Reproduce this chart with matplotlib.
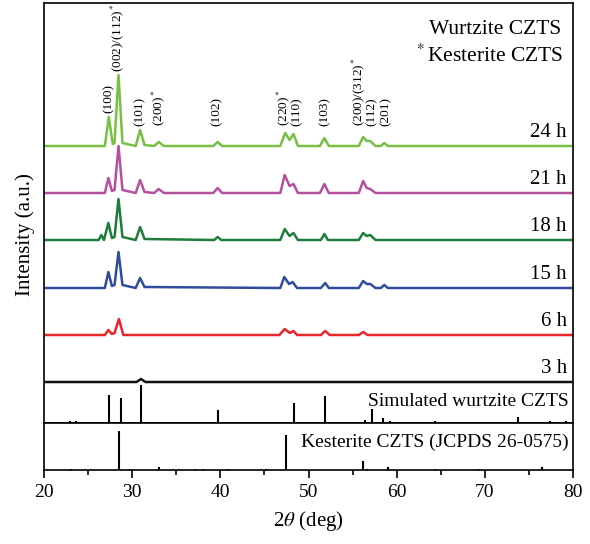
import numpy as np
import matplotlib.pyplot as plt

# XRD patterns of CZTS at different reaction times
plt.rcParams['font.family'] = ['Liberation Serif', 'DejaVu Serif']
plt.rcParams['mathtext.fontset'] = 'stix'

labels = ['24 h', '21 h', '18 h', '15 h', '6 h', '3 h']
colors = ['#78c043', '#b5509f', '#1e7d3a', '#2f4d9c', '#e8262a', '#111111']

x_24h = [20, 26.9, 27.35, 27.8, 28.0, 28.45, 28.9, 30.4, 30.9, 31.4, 32.5, 33.0, 33.6,
         39.2, 39.7, 40.2, 46.8, 47.35, 47.85, 48.3, 48.8, 51.3, 51.8, 52.3,
         55.7, 56.2, 56.6, 57.0, 57.6, 58.2, 58.6, 59.0, 80]
y_24h = [0, 0, 29, 2, 3, 71, 3, 0, 16, 1, 0, 4, 0,
         0, 4, 0, 0, 13, 6, 12, 0, 0, 8, 0,
         0, 9, 5, 5, 0, 0, 3, 0, 0]
x_21h = [20, 26.9, 27.3, 27.7, 28.0, 28.45, 28.9, 30.4, 30.9, 31.4, 32.5, 33.0, 33.6,
         39.2, 39.7, 40.2, 46.8, 47.3, 47.85, 48.3, 48.8, 51.3, 51.8, 52.3,
         55.7, 56.2, 56.6, 57.0, 57.6, 80]
y_21h = [0, 0, 15, 2, 3, 47, 3, 0, 13, 1, 0, 4, 0,
         0, 5, 0, 0, 18, 7, 9, 0, 0, 9, 0,
         0, 12, 5, 4, 0, 0]
x_18h = [20, 26.2, 26.5, 26.8, 27.3, 27.7, 28.0, 28.45, 28.9, 30.4, 30.9, 31.4,
         39.3, 39.7, 40.1, 46.8, 47.3, 47.85, 48.3, 48.8, 51.4, 51.8, 52.2,
         55.7, 56.2, 56.6, 57.0, 57.6, 80]
y_18h = [0, 0, 5, 0, 17, 2, 3, 41, 3, 0, 13, 1,
         0, 3, 0, 0, 11, 4, 7, 0, 0, 6, 0,
         0, 7, 4, 5, 0, 0]
x_15h = [20, 26.9, 27.3, 27.7, 28.0, 28.45, 28.9, 30.4, 30.9, 31.4,
         46.8, 47.25, 47.8, 48.2, 48.7, 51.4, 51.9, 52.3,
         55.7, 56.2, 56.6, 57.0, 57.6, 58.2, 58.6, 59.0, 80]
y_15h = [0, 0, 16, 2, 3, 36, 3, 0, 10, 1,
         0, 11, 4, 6, 0, 0, 5, 0,
         0, 7, 4, 4, 0, 0, 3, 0, 0]
x_6h = [20, 26.9, 27.3, 27.7, 28.0, 28.5, 29.0, 46.7, 47.3, 47.9, 48.3, 48.7,
        51.4, 51.9, 52.4, 55.7, 56.2, 56.7, 80]
y_6h = [0, 0, 5, 1, 2, 16, 0, 0, 6, 2, 4, 0,
        0, 4, 0, 0, 3, 0, 0]
x_3h = [20, 30.5, 31.0, 31.5, 80]
y_3h = [0, 0, 3, 0, 0]

traces_x = [x_24h, x_21h, x_18h, x_15h, x_6h, x_3h]
traces_y = [y_24h, y_21h, y_18h, y_15h, y_6h, y_3h]

# reference stick patterns
wz_pos = [23.0, 23.6, 27.34, 28.7, 29.8, 30.96, 34.1, 39.7, 48.3, 51.85,
          56.4, 57.2, 58.4, 59.2, 64.4, 66.6, 73.8, 77.4, 79.2]
wz_int = [2, 2, 28, 25, 1, 38, 1, 13, 20, 27,
          3, 14, 5, 2, 2, 1, 6, 2, 2]
ks_pos = [23.1, 28.55, 29.75, 33.0, 37.1, 38.0, 40.9, 45.2, 47.4, 56.2,
          56.6, 59.0, 64.3, 69.2, 76.5]
ks_int = [1, 39, 1, 3, 1, 1, 1, 1, 35, 9,
          1, 3, 1, 1, 3]

# peak annotations: text, 2theta, text bottom (top-axes units)
ann_text = ['(100)', '(002)/(112)$^*$', '(101)', '(200)$^*$', '(102)', '(220)$^*$',
            '(110)', '(103)', '(200)/(312)$^*$', '(112)', '(201)']
ann_x = [27.3, 28.35, 30.8, 33.0, 39.6, 47.1, 48.7, 51.8, 55.6, 57.2, 58.7]
ann_y = [310, 351, 297, 297, 297, 297, 297, 297, 297, 297, 297]

offsets = [277, 230, 183, 135, 88, 41]

fig = plt.figure(figsize=(5.9, 5.44), dpi=100)
ax = fig.add_axes([44/590, 1 - 423/544, 529/590, 420/544])
ax2 = fig.add_axes([44/590, 1 - 470/544, 529/590, 47/544], sharex=ax)

for xs, ys, off, c, lab in zip(traces_x, traces_y, offsets, colors, labels):
    ax.plot(xs, np.array(ys) + off, color=c, lw=1.8)
    ax.text(79.3, off + 4, lab, ha='right', va='bottom', fontsize=15)

ax.vlines(wz_pos, 0, wz_int, color='black', lw=1.5)
ax.text(79.5, 21, 'Simulated wurtzite CZTS', ha='right', va='center', fontsize=14)
for t, xp, yp in zip(ann_text, ann_x, ann_y):
    ax.text(xp, yp, t, rotation=90, ha='center', va='bottom', fontsize=9.5)
ax.text(78.7, 394, 'Wurtzite CZTS', ha='right', va='center', fontsize=15.5)
ax.text(78.9, 367, '$^*$Kesterite CZTS', ha='right', va='center', fontsize=15.5)

ax2.vlines(ks_pos, 0, ks_int, color='black', lw=1.5)
ax2.text(79.5, 28, 'Kesterite CZTS (JCPDS 26-0575)', ha='right', va='center', fontsize=14)

ax.set_xlim(20, 80)
ax.set_ylim(0, 420)
ax2.set_ylim(0, 47)
for a in (ax, ax2):
    for s in a.spines.values():
        s.set_linewidth(1.2)
    a.set_yticks([])
ax.tick_params(axis='x', bottom=False, labelbottom=False)
ax2.set_xticks([20, 30, 40, 50, 60, 70, 80])
ax2.set_xticks([25, 35, 45, 55, 65, 75], minor=True)
ax2.tick_params(axis='x', which='major', direction='out', length=6, width=1.2, labelsize=14, pad=4)
ax2.tick_params(axis='x', which='minor', direction='out', length=3.5, width=1.2)
ax2.set_xlabel(r'2$\theta$ (deg)', fontsize=15, labelpad=6)
fig.text(25/590, 1 - 235/544, 'Intensity (a.u.)', rotation=90, ha='center', va='center', fontsize=15)

fig.savefig('out.png', dpi=100)
